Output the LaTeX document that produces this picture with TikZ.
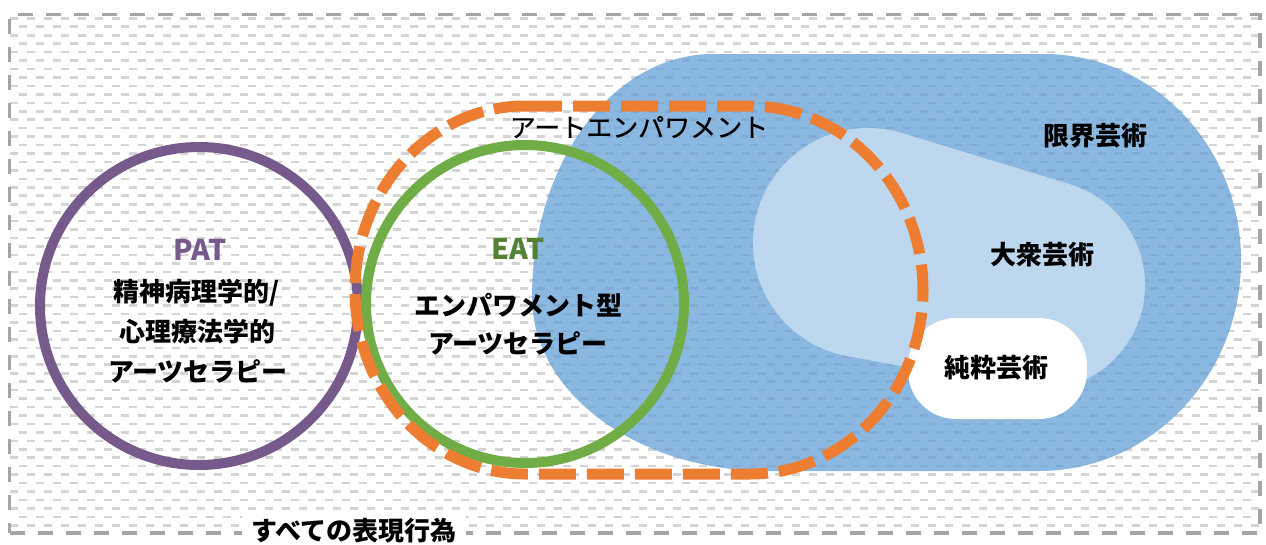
\documentclass[tikz,border=0pt]{standalone}
\usepackage{fontspec}
\setmainfont{Noto Sans CJK JP}
\definecolor{patpurple}{HTML}{765A8B}
\definecolor{eatgreen}{HTML}{70AD47}
\definecolor{eattext}{HTML}{548235}
\definecolor{aeorange}{HTML}{ED7D31}
\definecolor{genblue}{HTML}{5B9BD5}
\definecolor{taishu}{HTML}{BDD7EE}
\definecolor{patgray}{HTML}{D4D4D4}
\definecolor{framegray}{HTML}{A5A5A5}
\begin{document}
\begin{tikzpicture}[x=1pt,y=-1pt,
  lbl/.style={inner sep=0pt, font=\fontsize{26}{30}\selectfont\bfseries},
  lblreg/.style={inner sep=0pt, font=\fontsize{26}{30}\selectfont\addfontfeatures{FakeBold=0.6}},
  abbr/.style={inner sep=0pt, font=\fontsize{28.5}{32}\selectfont\bfseries},
  ring/.style={circle, inner sep=0pt, minimum size=318pt, line width=10pt},
  patrow/.style={draw=patgray, line width=2.6pt, dash pattern=on 8.3pt off 8.7pt}
]
\useasboundingbox (0,0) rectangle (1266,544);
\fill[white] (0,0) rectangle (1266,544);
% background pattern
\begin{scope}
  \clip (9.5,14.5) rectangle (1260,533);
  \foreach \i in {0,...,60} {
    \pgfmathsetmacro{\yy}{18.3+8.45*\i}
    \pgfmathsetmacro{\ph}{mod(\i,2)*8.5}
    \draw[patrow, dash phase=\ph pt] (10,\yy) -- (1260,\yy);
  }
\end{scope}
% genkai geijutsu (blue)
\fill[genblue, fill opacity=0.7]
  (532,297) .. controls (532,162.8) and (613,54) .. (713,54)
  -- (1044,54)
  .. controls (1152.8,54) and (1241,146.2) .. (1241,260)
  .. controls (1241,376.5) and (1150.6,471) .. (1039,471)
  -- (768,471)
  .. controls (637.7,471) and (532,393.1) .. (532,297) -- cycle;
% taishu geijutsu (light blue)
\fill[taishu] (868,243) circle[radius=115pt];
\fill[taishu] (1040,285) circle[radius=105pt];
\fill[taishu] (901.6,132.9) -- (1070.7,184.5) -- (1020.9,388.2) -- (847.1,356.0) -- cycle;
% junsui geijutsu
\node (junsui) [fill=white, rounded corners=48pt, minimum width=179pt, minimum height=101pt,
  inner sep=0pt] at (997.5,368.5) {};
% circles
\node (pat) [ring, draw=patpurple] at (199,306) {};
\node (eat) [ring, draw=eatgreen] at (525,304) {};
% art empowerment (orange dashed)
\draw[aeorange, line width=11pt, dash pattern=on 37pt off 11pt]
  (525,106) -- (750,106)
  .. controls (845.5,106) and (923,188.4) .. (923,290)
  .. controls (923,391.6) and (845.5,474) .. (750,474)
  -- (525,474)
  .. controls (431.1,474) and (355,391.6) .. (355,290)
  .. controls (355,188.4) and (431.1,106) .. (525,106) -- cycle;
% frame
\node (frame) [draw=framegray, line width=3.3pt, dash pattern=on 15pt off 13pt,
  minimum width=1250.5pt, minimum height=518.5pt, inner sep=0pt] at (634.75,273.75) {};
% texts
\node (patT) [abbr, text=patpurple] at (200,250) {PAT};
\node (pat1) [lbl] at (197,293) {精神病理学的/};
\node (pat2) [lbl] at (197,332) {心理療法学的};
\node (pat3) [lbl] at (198,371) {アーツセラピー};
\node (eatT) [abbr, text=eattext] at (518,249) {EAT};
\node (eat1) [lbl] at (518,305) {エンパワメント型};
\node (eat2) [lbl] at (518,343) {アーツセラピー};
\node (aeT) [lblreg] at (639,127) {アートエンパワメント};
\node (genkai) [lbl] at (1095,136) {限界芸術};
\node (taishuT) [lbl] at (1042,255) {大衆芸術};
\node (junsuiT) [lbl] at (996,368) {純粋芸術};
\node (allT) [lbl, fill=white, inner xsep=9pt, inner ysep=3pt] at (354,531) {すべての表現行為};
\end{tikzpicture}
\end{document}
